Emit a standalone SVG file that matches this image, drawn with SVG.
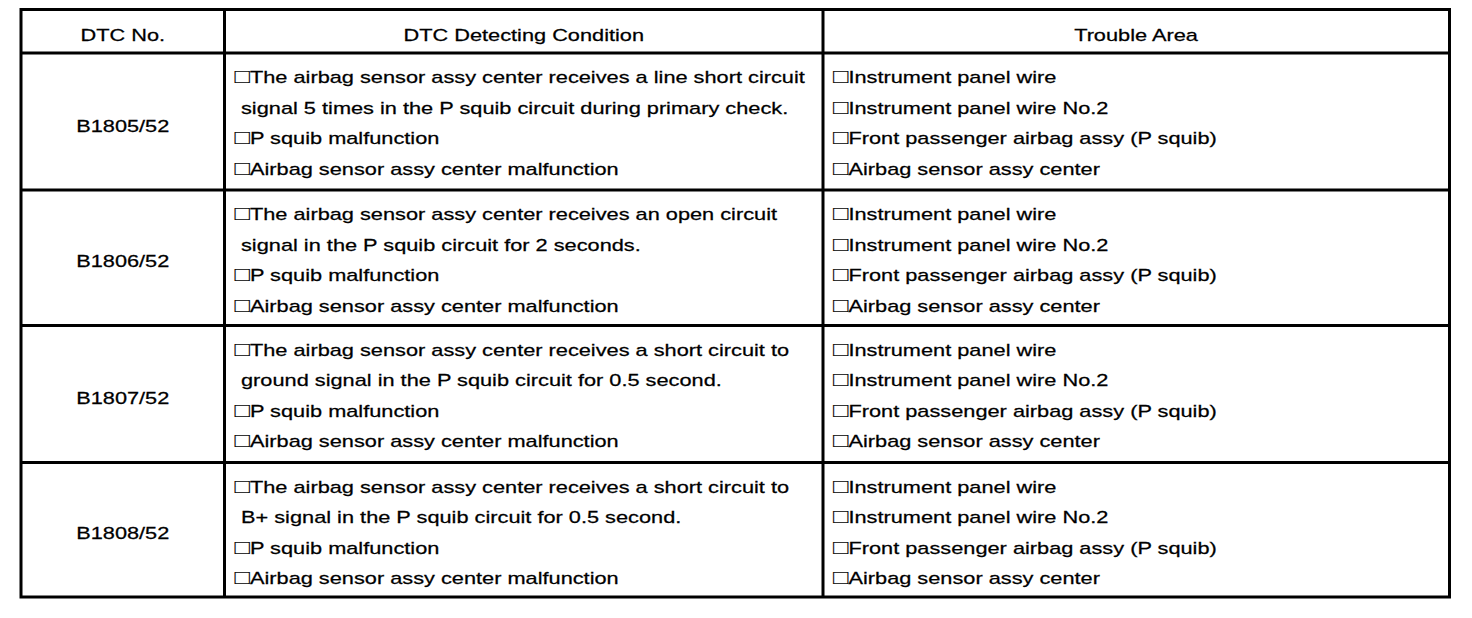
<svg xmlns="http://www.w3.org/2000/svg" width="1472" height="618" viewBox="0 0 1472 618">
<style>
.t{font-family:"Liberation Sans",Arial,"DejaVu Sans",sans-serif;font-size:17px;fill:#000;stroke:#000;stroke-width:0.25}
.c{text-anchor:middle}
.b{font-size:20px;stroke-width:0.1}
.ln{stroke:#000;stroke-width:3;fill:none}
</style>
<rect x="0" y="0" width="1472" height="618" fill="#fff"/>
<g id="grid">
<rect class="ln" x="21" y="9.5" width="1428.5" height="587.5"/>
<line class="ln" x1="224.5" y1="9.5" x2="224.5" y2="597"/>
<line class="ln" x1="823" y1="9.5" x2="823" y2="597"/>
<line class="ln" x1="21" y1="53" x2="1449.5" y2="53"/>
<line class="ln" x1="21" y1="190" x2="1449.5" y2="190"/>
<line class="ln" x1="21" y1="325.5" x2="1449.5" y2="325.5"/>
<line class="ln" x1="21" y1="462.5" x2="1449.5" y2="462.5"/>
</g>
<g id="header">
<text class="t c" transform="matrix(1.28 0 0 1 122.75 40.5)">DTC No.</text>
<text class="t c" transform="matrix(1.28 0 0 1 523.75 40.5)">DTC Detecting Condition</text>
<text class="t c" transform="matrix(1.28 0 0 1 1136 40.5)">Trouble Area</text>
</g>
<g id="row-b1805">
<text class="t c" transform="matrix(1.28 0 0 1 122.75 132)">B1805/52</text>
<text class="t" transform="matrix(1.28 0 0 1 234.5 83.3)"><tspan class="b">□</tspan>The airbag sensor assy center receives a line short circuit</text>
<text class="t" transform="matrix(1.28 0 0 1 241 113.8)">signal 5 times in the P squib circuit during primary check.</text>
<text class="t" transform="matrix(1.28 0 0 1 234.5 144.3)"><tspan class="b">□</tspan>P squib malfunction</text>
<text class="t" transform="matrix(1.28 0 0 1 234.5 174.8)"><tspan class="b">□</tspan>Airbag sensor assy center malfunction</text>
<text class="t" transform="matrix(1.28 0 0 1 833 83.3)"><tspan class="b">□</tspan>Instrument panel wire</text>
<text class="t" transform="matrix(1.28 0 0 1 833 113.8)"><tspan class="b">□</tspan>Instrument panel wire No.2</text>
<text class="t" transform="matrix(1.28 0 0 1 833 144.3)"><tspan class="b">□</tspan>Front passenger airbag assy (P squib)</text>
<text class="t" transform="matrix(1.28 0 0 1 833 174.8)"><tspan class="b">□</tspan>Airbag sensor assy center</text>
</g>
<g id="row-b1806">
<text class="t c" transform="matrix(1.28 0 0 1 122.75 267.25)">B1806/52</text>
<text class="t" transform="matrix(1.28 0 0 1 234.5 220.3)"><tspan class="b">□</tspan>The airbag sensor assy center receives an open circuit</text>
<text class="t" transform="matrix(1.28 0 0 1 241 250.8)">signal in the P squib circuit for 2 seconds.</text>
<text class="t" transform="matrix(1.28 0 0 1 234.5 281.3)"><tspan class="b">□</tspan>P squib malfunction</text>
<text class="t" transform="matrix(1.28 0 0 1 234.5 311.8)"><tspan class="b">□</tspan>Airbag sensor assy center malfunction</text>
<text class="t" transform="matrix(1.28 0 0 1 833 220.3)"><tspan class="b">□</tspan>Instrument panel wire</text>
<text class="t" transform="matrix(1.28 0 0 1 833 250.8)"><tspan class="b">□</tspan>Instrument panel wire No.2</text>
<text class="t" transform="matrix(1.28 0 0 1 833 281.3)"><tspan class="b">□</tspan>Front passenger airbag assy (P squib)</text>
<text class="t" transform="matrix(1.28 0 0 1 833 311.8)"><tspan class="b">□</tspan>Airbag sensor assy center</text>
</g>
<g id="row-b1807">
<text class="t c" transform="matrix(1.28 0 0 1 122.75 403.5)">B1807/52</text>
<text class="t" transform="matrix(1.28 0 0 1 234.5 355.8)"><tspan class="b">□</tspan>The airbag sensor assy center receives a short circuit to</text>
<text class="t" transform="matrix(1.28 0 0 1 241 386.3)">ground signal in the P squib circuit for 0.5 second.</text>
<text class="t" transform="matrix(1.28 0 0 1 234.5 416.8)"><tspan class="b">□</tspan>P squib malfunction</text>
<text class="t" transform="matrix(1.28 0 0 1 234.5 447.3)"><tspan class="b">□</tspan>Airbag sensor assy center malfunction</text>
<text class="t" transform="matrix(1.28 0 0 1 833 355.8)"><tspan class="b">□</tspan>Instrument panel wire</text>
<text class="t" transform="matrix(1.28 0 0 1 833 386.3)"><tspan class="b">□</tspan>Instrument panel wire No.2</text>
<text class="t" transform="matrix(1.28 0 0 1 833 416.8)"><tspan class="b">□</tspan>Front passenger airbag assy (P squib)</text>
<text class="t" transform="matrix(1.28 0 0 1 833 447.3)"><tspan class="b">□</tspan>Airbag sensor assy center</text>
</g>
<g id="row-b1808">
<text class="t c" transform="matrix(1.28 0 0 1 122.75 539.25)">B1808/52</text>
<text class="t" transform="matrix(1.28 0 0 1 234.5 492.8)"><tspan class="b">□</tspan>The airbag sensor assy center receives a short circuit to</text>
<text class="t" transform="matrix(1.28 0 0 1 241 523.3)">B+ signal in the P squib circuit for 0.5 second.</text>
<text class="t" transform="matrix(1.28 0 0 1 234.5 553.8)"><tspan class="b">□</tspan>P squib malfunction</text>
<text class="t" transform="matrix(1.28 0 0 1 234.5 584.3)"><tspan class="b">□</tspan>Airbag sensor assy center malfunction</text>
<text class="t" transform="matrix(1.28 0 0 1 833 492.8)"><tspan class="b">□</tspan>Instrument panel wire</text>
<text class="t" transform="matrix(1.28 0 0 1 833 523.3)"><tspan class="b">□</tspan>Instrument panel wire No.2</text>
<text class="t" transform="matrix(1.28 0 0 1 833 553.8)"><tspan class="b">□</tspan>Front passenger airbag assy (P squib)</text>
<text class="t" transform="matrix(1.28 0 0 1 833 584.3)"><tspan class="b">□</tspan>Airbag sensor assy center</text>
</g>
</svg>
